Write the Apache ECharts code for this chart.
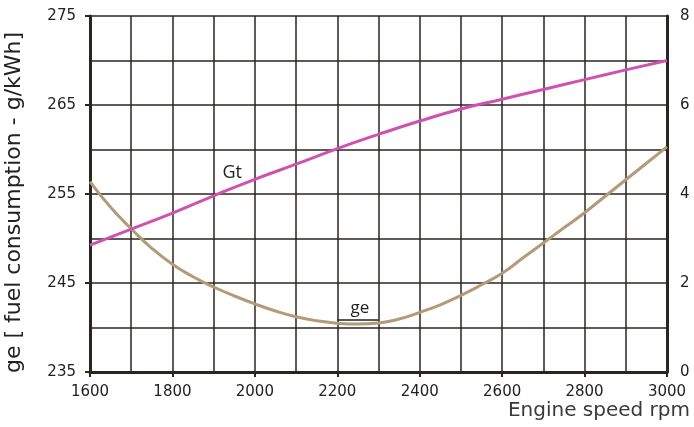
<!DOCTYPE html>
<html>
<head>
<meta charset="utf-8">
<script src="https://cdn.jsdelivr.net/npm/echarts@6/dist/echarts.min.js"></script>
<style>
  html, body { margin: 0; padding: 0; background: #fff; }
  #chart { width: 694px; height: 427px; }
</style>
</head>
<body>
<div id="chart"></div>
<script>
// specific fuel consumption ge, g/kWh (left axis), read every 50 rpm
const geRpm = [1600, 1650, 1700, 1750, 1800, 1850, 1900, 1950, 2000, 2050, 2100, 2150, 2200, 2250, 2300,
  2350, 2400, 2450, 2500, 2550, 2600, 2650, 2700, 2750, 2800, 2850, 2900, 2950, 3000];
const ge = [256.4, 253.5, 251.1, 248.9, 247.1, 245.7, 244.55, 243.55, 242.65, 241.85, 241.2, 240.75, 240.48, 240.38, 240.5,
  240.95, 241.7, 242.55, 243.6, 244.8, 246.1, 247.8, 249.5, 251.2, 252.9, 254.75, 256.6, 258.45, 260.3];
// Gt (right axis)
const gtRpm = [1600, 1700, 1800, 1900, 2000, 2100, 2200, 2300, 2400, 2500, 2600, 2700, 2800, 2900, 3000];
const gt = [2.85, 3.21, 3.57, 3.96, 4.33, 4.67, 5.02, 5.34, 5.64, 5.91, 6.13, 6.35, 6.57, 6.79, 7.0];

// labelled ticks
const leftLabels = [235, 245, 255, 265, 275];
const rightLabels = [0, 2, 4, 6, 8];

const gridColor = '#2b2522';
const labelFont = { fontFamily: 'DejaVu Sans', fontSize: 15, color: '#222' };
const gridLine = { show: true, lineStyle: { color: gridColor, width: 1.5 } };

const chart = echarts.init(document.getElementById('chart'));
chart.setOption({
  animation: false,
  grid: { left: 90, right: 27, top: 16, bottom: 55, containLabel: false, outerBoundsMode: 'none' },
  xAxis: {
    type: 'value', min: 1600, max: 3000, interval: 200,
    name: 'Engine speed rpm', nameLocation: 'end', nameGap: 23,
    nameTextStyle: { fontFamily: 'DejaVu Sans', fontSize: 20, color: '#3a3a3a', align: 'right', verticalAlign: 'top', padding: [29, 0, 0, 0] },
    axisLine: { lineStyle: { color: gridColor, width: 3 } },
    axisTick: { show: true, length: 5, lineStyle: { color: gridColor, width: 2 } },
    axisLabel: Object.assign({ margin: 13, formatter: v => String(v) }, labelFont),
    splitLine: gridLine,
    minorTick: { show: false, splitNumber: 2 },
    minorSplitLine: gridLine
  },
  yAxis: [
    {
      // left scale, labels only
      type: 'value', min: 235, max: 275, interval: 5, position: 'left',
      name: 'ge [ fuel consumption - g/kWh]', nameLocation: 'middle', nameGap: 65,
      nameTextStyle: { fontFamily: 'DejaVu Sans', fontSize: 22, color: '#222', padding: [0, 17, 0, 0] },
      axisLine: { show: true, lineStyle: { color: gridColor, width: 3 } },
      axisTick: { show: false },
      axisLabel: Object.assign({ margin: 14, formatter: v => leftLabels.indexOf(v) >= 0 ? String(v) : '' }, labelFont),
      splitLine: { show: false }
    },
    {
      // right scale, draws the grid
      type: 'value', min: 0, max: 8, interval: 2, position: 'right',
      axisLine: { show: true, lineStyle: { color: gridColor, width: 3 } },
      axisTick: { show: false },
      axisLabel: Object.assign({ margin: 13, formatter: v => rightLabels.indexOf(v) >= 0 ? String(v) : '' }, labelFont),
      splitLine: gridLine,
      minorTick: { show: false, splitNumber: 2 },
      minorSplitLine: gridLine
    },
    {
      // left tick marks at the labelled values
      type: 'value', min: 0, max: 8, interval: 2, position: 'left',
      axisLine: { show: false },
      axisTick: { show: true, length: 5, lineStyle: { color: gridColor, width: 2 } },
      axisLabel: { show: false },
      splitLine: { show: false }
    }
  ],
  series: [
    {
      name: 'ge', type: 'line', yAxisIndex: 0, smooth: true, showSymbol: false,
      data: geRpm.map((r, i) => [r, ge[i]]),
      lineStyle: { color: '#b39b78', width: 3 },
      itemStyle: { color: '#b39b78' },
      markPoint: {
        symbol: 'circle', symbolSize: 1, silent: true,
        itemStyle: { color: 'rgba(0,0,0,0)' },
        label: { show: true, position: 'inside', formatter: 'ge', fontFamily: 'Open Sans', fontSize: 17, color: '#222' },
        data: [{ coord: [2255, 242.2] }]
      },
      markLine: {
        silent: true, symbol: 'none',
        label: { show: false },
        lineStyle: { color: '#222', width: 1.5, type: 'solid' },
        data: [[{ coord: [2200, 240.9] }, { coord: [2300, 240.9] }]]
      }
    },
    {
      name: 'Gt', type: 'line', yAxisIndex: 1, smooth: true, showSymbol: false,
      data: gtRpm.map((r, i) => [r, gt[i]]),
      lineStyle: { color: '#cf52b0', width: 3 },
      itemStyle: { color: '#cf52b0' },
      markPoint: {
        symbol: 'circle', symbolSize: 1, silent: true,
        itemStyle: { color: 'rgba(0,0,0,0)' },
        label: { show: true, position: 'inside', formatter: 'Gt', fontFamily: 'Open Sans', fontSize: 18, color: '#222' },
        data: [{ coord: [1945, 4.47] }]
      }
    }
  ]
});
</script>
</body>
</html>
